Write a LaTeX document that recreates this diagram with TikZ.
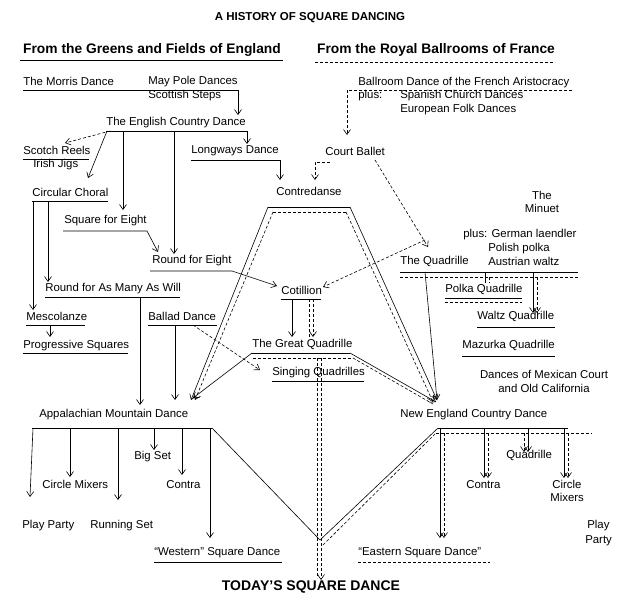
\documentclass[tikz,border=0pt]{standalone}
\usepackage{fontspec}
\setmainfont{Liberation Sans}
\usetikzlibrary{arrows.meta}
\begin{document}
\begin{tikzpicture}[x=1pt,y=-1pt,line width=0.6pt,
  t/.style={anchor=west,inner sep=0pt,yshift=1.5pt,font=\fontsize{11.4}{13}\selectfont},
  tc/.style={inner sep=0pt,font=\fontsize{11.4}{13}\selectfont},
  hd/.style={inner sep=0pt,font=\bfseries\fontsize{11.5}{13}\selectfont},
  ar/.style={-{Straight Barb[length=5pt,width=7pt]}},
  dsh/.style={dash pattern=on 3pt off 2pt}]
\useasboundingbox (0,0) rectangle (619,600);
\fill[white] (0,0) rectangle (619,600);
% headings
\node[hd] (title) at (310,18) {A HISTORY OF SQUARE DANCING};
\node[hd,font=\bfseries\fontsize{13.8}{16}\selectfont] (h1) at (152,50) {From the Greens and Fields of England};
\node[hd,font=\bfseries\fontsize{13.8}{16}\selectfont] (h2) at (436,50) {From the Royal Ballrooms of France};
\draw (20,60) -- (283,60);
\draw[dsh] (315,62) -- (555,62);
\node[hd,font=\bfseries\fontsize{14}{16}\selectfont] (today) at (311,587) {TODAY'S SQUARE DANCE};
% left top
\node[t] (morris) at (23,83) {The Morris Dance};
\node[t] (maypole) at (148,83) {May Pole Dances};
\node[t] (scot) at (148,97) {Scottish Steps};
\draw[ar] (23,90) -- (238,90) -- (238,115);
\node[t] (ecd) at (106,124) {The English Country Dance};
\draw (106,131) -- (247,131);
\draw[ar] (247,131) -- (247,144);
\draw[ar,dsh] (110,131) -- (65,143);
\draw[ar] (107,131) -- (88,178);
\draw[ar] (123,131) -- (123,210);
\draw[ar] (174,131) -- (174,254);
\node[t] (scotch) at (23,152) {Scotch Reels};
\draw (23,159) -- (89,159);
\node[t] (irish) at (33,166) {Irish Jigs};
\node[t] (longways) at (191,152) {Longways Dance};
\draw[ar] (191,160) -- (280,160) -- (280,180);
\node[t] (contre) at (276,193) {Contredanse};
\draw (268,207) -- (350,207);
\draw[ar] (268,207) -- (191,400);
\draw[ar] (350,207) -- (437,400);
\draw[dsh] (273,212) -- (346,212);
\draw[dsh,ar] (273,212) -- (195,400);
\draw[dsh,ar] (346,212) -- (433,402);
\node[t] (circ) at (32,194) {Circular Choral};
\draw (32,201) -- (108,201);
\draw[ar] (48,201) -- (48,282);
\draw[ar] (33,201) -- (33,310);
\node[t] (sq8) at (64,222) {Square for Eight};
\draw[ar] (63,231) -- (147,231) -- (158,252);
\node[t] (r8) at (152,262) {Round for Eight};
\draw[ar] (150,271) -- (232,271) -- (277,286);
\node[t] (ramaw) at (45,290) {Round for As Many As Will};
\draw (45,297) -- (180,297);
\draw[ar] (140,297) -- (140,405);
\node[t] (mesc) at (26,318) {Mescolanze};
\draw (26,325) -- (85,325);
\draw[ar] (50,325) -- (50,337);
\node[t] (prog) at (23,347) {Progressive Squares};
\draw (23,353) -- (128,353);
\node[t] (ballad) at (148,318) {Ballad Dance};
\draw (148,325) -- (217,325);
\draw[ar] (175,325) -- (175,400);
\draw[ar,dsh] (193,325) -- (260,370);
% middle
\node[t] (cot) at (281,292) {Cotillion};
\draw (281,299) -- (321,299);
\draw[ar] (292,299) -- (292,337);
\draw[dsh] (309,299) -- (309,337);
\draw[dsh,ar] (313,299) -- (313,337);
\node[t] (gq) at (252,346) {The Great Quadrille};
\draw (252,353) -- (350,353);
\draw[dsh] (253,358) -- (353,358);
\draw[ar] (252,353) -- (193,398);
\draw[ar] (350,353) -- (436,402);
\draw[dsh] (353,358) -- (433,404);
\draw[dsh] (317,358) -- (317,578);
\draw[dsh,ar] (321,358) -- (321,580);
\node[t] (sing) at (272,374) {Singing Quadrilles};
\draw (272,381) -- (364,381);
% right top
\node[t] (ballroom) at (358,84) {Ballroom Dance of the French Aristocracy};
\draw[dsh] (572,90) -- (347,90);
\draw[dsh,ar] (347,90) -- (347,135);
\node[t] (plus1) at (358,97) {plus:};
\node[t] (spanish) at (400,97) {Spanish Church Dances};
\node[t] (euro) at (400,111) {European Folk Dances};
\node[t] (court) at (325,153) {Court Ballet};
\draw[dsh,ar] (330,162) -- (315,162) -- (315,180);
\draw[dsh,ar] (375,160) -- (428,247);
\draw[dsh,ar] (425,240) -- (323,287);
\node[tc] (the) at (542,195) {The};
\node[tc] (minuet) at (542,208) {Minuet};
\node[t] (plus2) at (463,236) {plus: German laendler};
\node[tc] (polish) at (519,249) {Polish polka};
\node[t] (tq) at (400,263) {The Quadrille};
\node[t] (austrian) at (488,263) {Austrian waltz};
\draw (400,272) -- (578,272);
\draw[dsh] (400,277) -- (580,277);
\draw[ar] (425,272) -- (437,400);
\draw (485,272) -- (485,283);
\draw[dsh] (489,277) -- (489,283);
\draw[ar] (533,272) -- (533,313);
\draw[dsh,ar] (537,277) -- (537,313);
\node[t] (polka) at (445,291) {Polka Quadrille};
\draw (445,298) -- (522,298);
\draw[dsh] (445,302) -- (522,302);
\node[t] (waltz) at (477,318) {Waltz Quadrille};
\draw (477,327) -- (555,327);
\node[t] (mazurka) at (462,347) {Mazurka Quadrille};
\draw (462,356) -- (555,356);
\node[tc] (mex1) at (544,374) {Dances of Mexican Court};
\node[tc] (mex2) at (544,388) {and Old California};
% bottom left
\node[t] (app) at (39,416) {Appalachian Mountain Dance};
\draw (32,428) -- (212,428);
\draw[ar] (33,428) -- (30,497);
\draw[ar] (70,428) -- (70,477);
\draw[ar] (118,428) -- (118,500);
\draw[ar] (154,428) -- (154,450);
\draw[ar] (182,428) -- (182,475);
\draw[ar] (210,428) -- (210,538);
\node[t] (bigset) at (134,458) {Big Set};
\node[t] (cm1) at (42,486) {Circle Mixers};
\node[t] (contra1) at (166,486) {Contra};
\node[t] (pp1) at (22,527) {Play Party};
\node[t] (rs) at (90,527) {Running Set};
\node[t] (western) at (154,554) {``Western'' Square Dance};
\draw (154,562) -- (282,562);
\draw (212,428) -- (320,540) -- (438,428);
\draw[dsh] (323,545) -- (436,433);
% bottom right
\node[t] (ne) at (400,416) {New England Country Dance};
\draw (438,428) -- (568,428);
\draw[dsh] (436,433) -- (592,433);
\draw[ar] (440,428) -- (440,538);
\draw[dsh,ar] (444,433) -- (444,538);
\draw[ar] (484,428) -- (484,478);
\draw[dsh,ar] (488,433) -- (488,478);
\draw[ar] (528,428) -- (528,452);
\draw[dsh,ar] (524,433) -- (524,452);
\draw[ar] (564,428) -- (564,478);
\draw[dsh,ar] (568,433) -- (568,478);
\node[t] (quad2) at (506,457) {Quadrille};
\node[t] (contra2) at (466,486) {Contra};
\node[t] (cm2a) at (552,486) {Circle};
\node[t] (cm2b) at (550,499) {Mixers};
\node[t] (play) at (587,527) {Play};
\node[t] (party) at (585,542) {Party};
\node[t] (eastern) at (358,554) {``Eastern Square Dance''};
\draw[dsh] (358,562) -- (490,562);
\end{tikzpicture}
\end{document}
